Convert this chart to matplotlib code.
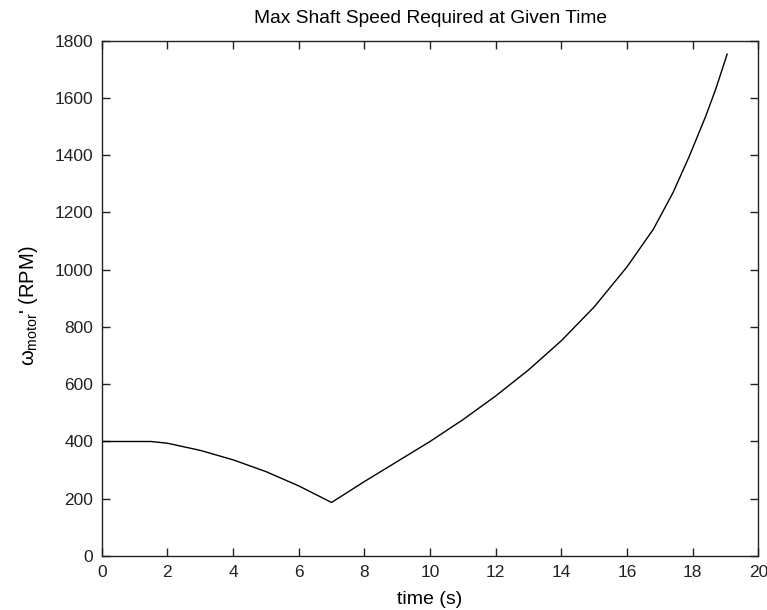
import numpy as np
import matplotlib
matplotlib.use("Agg")
import matplotlib.pyplot as plt

# values
time_s = [0, 1.0, 1.5, 2, 3, 4, 5, 6, 7, 8, 9, 10, 11, 12, 13, 14, 15, 16, 16.8, 17.4, 17.9, 18.4, 18.7, 19.05]
speed_rpm = [400, 400, 400, 394, 369, 336, 295, 245, 187, 260, 330, 400, 476, 559, 650, 752, 870, 1010, 1141, 1269, 1397, 1537, 1630, 1753]

x_ticks = list(range(0, 21, 2))
y_ticks = list(range(0, 1801, 200))

plt.rcParams['font.family'] = ['Liberation Sans', 'DejaVu Sans']
plt.rcParams['mathtext.fontset'] = 'custom'
plt.rcParams['mathtext.rm'] = 'Liberation Sans'
plt.rcParams['mathtext.it'] = 'Liberation Sans'

fig = plt.figure(figsize=(7.67, 6.10), dpi=100)
ax = fig.add_axes([0.1326, 0.0885, 0.9887 - 0.1326, 0.9333 - 0.0885])

ax.plot(time_s, speed_rpm, color='black', linewidth=1.0)

ax.set_xlim(0, 20)
ax.set_ylim(0, 1800)
ax.set_xticks(x_ticks)
ax.set_yticks(y_ticks)
ax.tick_params(direction='in', length=6, width=1, top=True, right=True,
               labelsize=12.5, colors='#222222')
ax.tick_params(axis='x', pad=6.5)
ax.tick_params(axis='y', pad=6)
for s in ax.spines.values():
    s.set_color('#222222')
    s.set_linewidth(1)

ax.set_title('Max Shaft Speed Required at Given Time', fontsize=13.8, pad=13)
ax.set_xlabel('time (s)', fontsize=14, labelpad=8)
ax.set_ylabel(r"$\omega_{\rm motor}$' (RPM)", fontsize=14.5)
ax.yaxis.set_label_coords(-0.094, 0.485)

fig.savefig('out.png', dpi=100)
